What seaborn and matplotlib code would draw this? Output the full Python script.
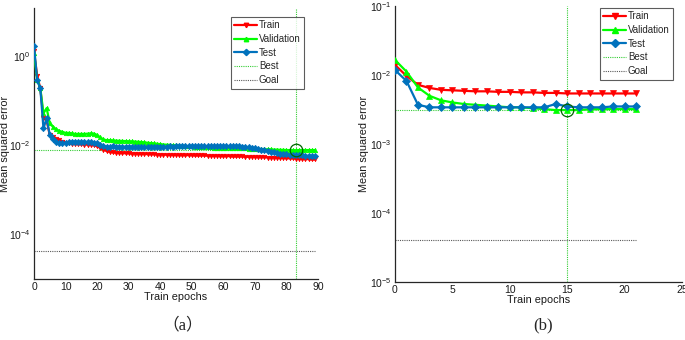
import matplotlib
matplotlib.use("Agg")
import matplotlib.pyplot as plt
import numpy as np
import pandas as pd
import seaborn as sns
from matplotlib.lines import Line2D
from matplotlib.ticker import FixedLocator, NullLocator, LogLocator, LogFormatterSciNotation, NullFormatter

# ---------------- data: panel (a) ----------------
epochs_a = list(range(90))
train_a = [1.3, 0.36, 0.19, 0.040, 0.036, 0.017, 0.015, 0.014, 0.013, 0.012,
           0.011, 0.011, 0.0108, 0.0107, 0.0106, 0.0105, 0.0104, 0.0103, 0.0102, 0.0100,
           0.0095, 0.0088, 0.0080, 0.0074, 0.0071, 0.0069, 0.0068, 0.0067, 0.0067, 0.0066,
           0.0066, 0.0065, 0.0065, 0.0064, 0.0064, 0.0064, 0.0063, 0.0063, 0.0063, 0.0062,
           0.0062, 0.0062, 0.0061, 0.0061, 0.0061, 0.0061, 0.0060, 0.0060, 0.0060, 0.0060,
           0.0060, 0.0059, 0.0059, 0.0059, 0.0059, 0.0058, 0.0058, 0.0058, 0.0058, 0.0057,
           0.0057, 0.0057, 0.0057, 0.0056, 0.0056, 0.0056, 0.0056, 0.0055, 0.0055, 0.0055,
           0.0055, 0.0054, 0.0054, 0.0054, 0.0053, 0.0053, 0.0053, 0.0052, 0.0052, 0.0052,
           0.0051, 0.0051, 0.0051, 0.0050, 0.0050, 0.0049, 0.0049, 0.0049, 0.0048, 0.0048]
val_a = [1.2, 0.29, 0.19, 0.052, 0.068, 0.031, 0.026, 0.023, 0.021, 0.020,
         0.019, 0.019, 0.0185, 0.018, 0.018, 0.018, 0.018, 0.0182, 0.0185, 0.0183,
         0.017, 0.015, 0.0135, 0.013, 0.013, 0.0128, 0.0127, 0.0126, 0.0125, 0.0124,
         0.0123, 0.0122, 0.0121, 0.0120, 0.0118, 0.0116, 0.0114, 0.0112, 0.0110, 0.0108,
         0.0106, 0.0104, 0.0103, 0.0102, 0.0100, 0.0099, 0.0098, 0.0097, 0.0096, 0.0095,
         0.0094, 0.0093, 0.0092, 0.0092, 0.0091, 0.0090, 0.0090, 0.0089, 0.0089, 0.0088,
         0.0088, 0.0087, 0.0087, 0.0086, 0.0086, 0.0086, 0.0085, 0.0085, 0.0084, 0.0084,
         0.0083, 0.0083, 0.0082, 0.0082, 0.0081, 0.0081, 0.0080, 0.0080, 0.0079, 0.0079,
         0.0078, 0.0078, 0.0078, 0.0077, 0.0078, 0.0078, 0.0078, 0.0078, 0.0078, 0.0078]
test_a = [1.7, 0.29, 0.19, 0.024, 0.040, 0.017, 0.014, 0.012, 0.0115, 0.011,
          0.0115, 0.0118, 0.0120, 0.0120, 0.0118, 0.0119, 0.0120, 0.0118, 0.0117, 0.0115,
          0.0110, 0.0102, 0.0096, 0.0093, 0.0092, 0.0098, 0.0092, 0.0092, 0.0092, 0.0093,
          0.0093, 0.0092, 0.0092, 0.0093, 0.0093, 0.0092, 0.0092, 0.0093, 0.0093, 0.0093,
          0.0092, 0.0093, 0.0093, 0.0094, 0.0093, 0.0094, 0.0094, 0.0095, 0.0094, 0.0095,
          0.0095, 0.0094, 0.0095, 0.0095, 0.0096, 0.0095, 0.0096, 0.0095, 0.0096, 0.0096,
          0.0095, 0.0095, 0.0096, 0.0095, 0.0095, 0.0094, 0.0093, 0.0092, 0.0090, 0.0088,
          0.0086, 0.0083, 0.0080, 0.0077, 0.0074, 0.0071, 0.0069, 0.0067, 0.0065, 0.0064,
          0.0063, 0.0062, 0.0061, 0.0060, 0.0060, 0.0059, 0.0058, 0.0058, 0.0057, 0.0057]
best_epoch_a = 83
best_val_a = 0.0077
goal_a = 4.2e-5

# ---------------- data: panel (b) ----------------
epochs_b = list(range(22))
train_b = [0.014, 0.0097, 0.0072, 0.0065, 0.0061, 0.0060, 0.0059, 0.0058, 0.0058, 0.0057,
           0.0057, 0.0056, 0.0056, 0.0055, 0.0055, 0.0054, 0.0054, 0.0054, 0.0054, 0.0054,
           0.0054, 0.0054]
val_b = [0.0165, 0.0112, 0.0066, 0.0050, 0.0043, 0.0040, 0.0038, 0.0037, 0.0036, 0.0035,
         0.0034, 0.0034, 0.0033, 0.0032, 0.0031, 0.0031, 0.0031, 0.0032, 0.0032, 0.0032,
         0.0032, 0.0032]
test_b = [0.0118, 0.0082, 0.0037, 0.0034, 0.0034, 0.0034, 0.0034, 0.0034, 0.0034, 0.0034,
          0.0034, 0.0034, 0.0034, 0.0034, 0.0038, 0.0035, 0.0034, 0.0034, 0.0034, 0.0035,
          0.0035, 0.0035]
best_epoch_b = 15
best_val_b = 0.0031
goal_b = 4.1e-5

series_names = ["Train", "Validation", "Test"]
legend_labels = ["Train", "Validation", "Test", "Best", "Goal"]
xlabel = "Train epochs"
ylabel = "Mean squared error"
captions = ["（a）", "(b)"]

colors = {"Train": (1, 0, 0), "Validation": (0, 1, 0), "Test": (0, 0.447, 0.741)}
markers = {"Train": "v", "Validation": "^", "Test": "D"}
best_color = (0.2, 0.8, 0.2)
goal_color = (0.35, 0.35, 0.35)
circle_color = (0, 0.4, 0)
spine_color = (0.15, 0.15, 0.15)
text_color = (0.1, 0.1, 0.1)

sns.set_theme(style="white")
plt.rcParams["font.family"] = ["Liberation Sans", "DejaVu Sans"]
plt.rcParams["mathtext.fontset"] = "custom"
plt.rcParams["mathtext.rm"] = "Liberation Sans"
plt.rcParams["mathtext.it"] = "Liberation Sans:italic"
plt.rcParams["mathtext.bf"] = "Liberation Sans:bold"

fig = plt.figure(figsize=(6.85, 3.4), dpi=100)
axA = fig.add_axes([34 / 685, 1 - 279 / 340, 284 / 685, 271 / 340])
axB = fig.add_axes([395 / 685, 1 - 282 / 340, 287 / 685, 276 / 340])


def long_df(epochs, tr, va, te):
    frames = []
    for name, vals in zip(series_names, [tr, va, te]):
        frames.append(pd.DataFrame({"epoch": epochs, "mse": vals, "set": name}))
    return pd.concat(frames, ignore_index=True)


def draw(ax, df, best_epoch, best_val, goal, xmax_line, ms, lw, leg_bbox):
    ax.set_yscale("log")
    ax.axvline(best_epoch, color=best_color, lw=0.8, ls=(0, (1, 1)), zorder=1)
    ax.plot([0, xmax_line], [best_val, best_val], color=best_color, lw=0.8, ls=(0, (1, 1)), zorder=1)
    ax.plot([0, xmax_line], [goal, goal], color=goal_color, lw=0.8, ls=(0, (1, 1)), zorder=1)
    for name in series_names:
        sub = df[df["set"] == name]
        sns.lineplot(data=sub, x="epoch", y="mse", ax=ax, color=colors[name],
                     marker=markers[name], markersize=ms, markeredgewidth=0.5,
                     markeredgecolor=colors[name], linewidth=lw, legend=False, zorder=3)
    ax.plot([best_epoch], [best_val], marker="o", ms=9, mfc="none", mec=circle_color, mew=0.9,
            ls="none", zorder=5)
    for s in ["top", "right"]:
        ax.spines[s].set_visible(False)
    for s in ["left", "bottom"]:
        ax.spines[s].set_color(spine_color)
        ax.spines[s].set_linewidth(0.9)
    ax.tick_params(which="both", direction="in", colors=spine_color, labelsize=7.5,
                   labelcolor=text_color)
    ax.tick_params(which="major", length=3, pad=2.5)
    ax.tick_params(which="minor", length=1.8)
    ax.set_xlabel(xlabel, fontsize=7.8, labelpad=0, color=text_color)
    ax.set_ylabel(ylabel, fontsize=7.8, color=text_color)
    handles = [Line2D([], [], color=colors[n], marker=markers[n], ms=ms, lw=lw) for n in series_names]
    handles.append(Line2D([], [], color=best_color, lw=0.8, ls=(0, (1, 1))))
    handles.append(Line2D([], [], color=goal_color, lw=0.8, ls=(0, (1, 1))))
    leg = ax.legend(handles, legend_labels, loc="upper right", bbox_to_anchor=leg_bbox,
                    bbox_transform=fig.transFigure, fontsize=7, frameon=True,
                    fancybox=False, edgecolor=(0.2, 0.2, 0.2), handlelength=2.4,
                    borderpad=0.35, labelspacing=0.38, handletextpad=0.15, borderaxespad=0.0)
    leg.get_frame().set_linewidth(0.8)


dfA = long_df(epochs_a, train_a, val_a, test_a)
draw(axA, dfA, best_epoch_a, best_val_a, goal_a, 89, 3.2, 1.6, (304 / 685, 1 - 17 / 340))
axA.set_xlim(0, 90)
axA.set_ylim(1e-5, 12)
axA.xaxis.set_major_locator(FixedLocator(list(range(0, 91, 10))))
axA.yaxis.set_major_locator(FixedLocator([1e-4, 1e-2, 1e0]))
axA.yaxis.set_major_formatter(LogFormatterSciNotation())
axA.yaxis.set_minor_locator(NullLocator())
axA.yaxis.set_label_coords((10 - 34) / 284, 0.5)

dfB = long_df(epochs_b, train_b, val_b, test_b)
draw(axB, dfB, best_epoch_b, best_val_b, goal_b, 21, 4, 1.6, (673 / 685, 1 - 8 / 340))
axB.set_xlim(0, 25)
axB.set_ylim(1e-5, 1e-1)
axB.xaxis.set_major_locator(FixedLocator(list(range(0, 26, 5))))
axB.yaxis.set_major_locator(LogLocator(base=10, numticks=10))
axB.yaxis.set_minor_locator(LogLocator(base=10, subs=np.arange(2, 10), numticks=50))
axB.yaxis.set_minor_formatter(NullFormatter())
axB.yaxis.set_label_coords((369 - 395) / 287, 0.5)

fig.text(183 / 685, 1 - 325 / 340, captions[0], ha="center", va="center", fontsize=12,
         family=["Liberation Serif", "Noto Sans CJK SC"])
fig.text(543 / 685, 1 - 325 / 340, captions[1], ha="center", va="center", fontsize=12,
         family=["Liberation Serif", "Noto Sans CJK SC"])

fig.savefig("out.png", dpi=100)
